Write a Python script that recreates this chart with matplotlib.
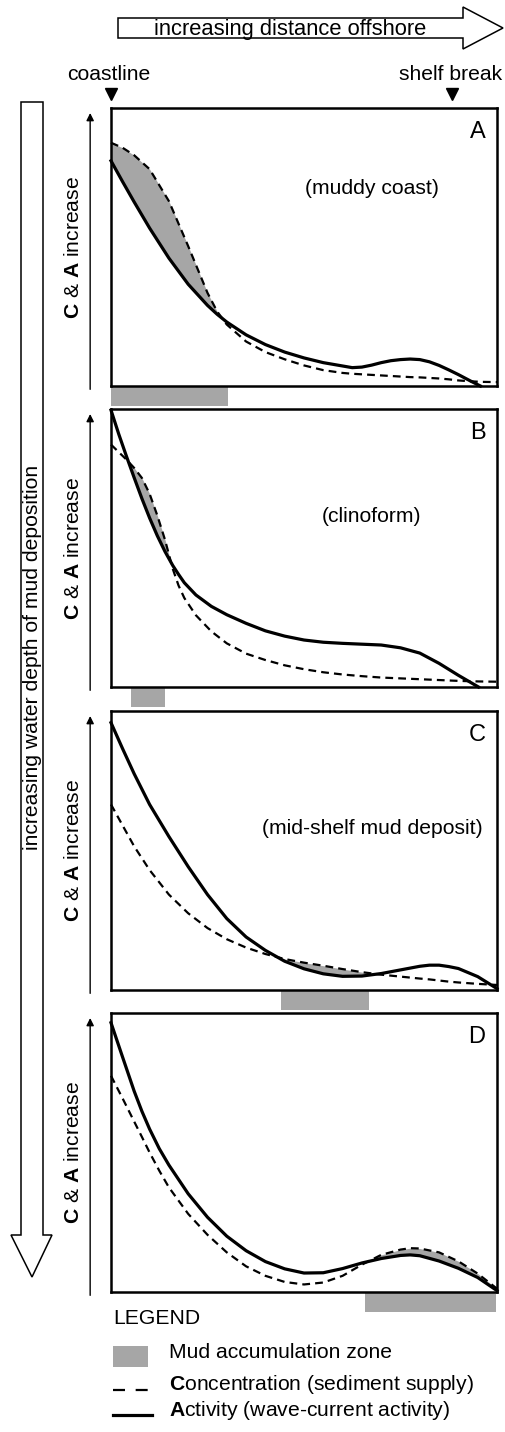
import numpy as np
import matplotlib
matplotlib.use("Agg")
import matplotlib.pyplot as plt
from matplotlib.patches import Polygon, Rectangle

plt.rcParams['font.family'] = ['Liberation Sans', 'DejaVu Sans']
plt.rcParams['mathtext.fontset'] = 'custom'
plt.rcParams['mathtext.rm'] = 'Liberation Sans'
plt.rcParams['mathtext.bf'] = 'Liberation Sans:bold'

# distance offshore (0 = coastline, 1 = right edge)
panel_labels = ['A', 'B', 'C', 'D']
panel_notes = ['(muddy coast)', '(clinoform)', '(mid-shelf mud deposit)', '']

x_a = [0, 0.03, 0.06, 0.1, 0.15, 0.2, 0.25, 0.275, 0.3, 0.35, 0.4, 0.45, 0.5, 0.55,
       0.6, 0.625, 0.65, 0.675, 0.7, 0.725, 0.75, 0.775, 0.8, 0.825, 0.85, 0.875,
       0.9, 0.93, 0.957, 1.0]
act_a = [0.81, 0.735, 0.662, 0.568, 0.46, 0.366, 0.29, 0.258, 0.23, 0.184, 0.149,
         0.122, 0.101, 0.084, 0.072, 0.066, 0.068, 0.075, 0.084, 0.091, 0.095, 0.097,
         0.095, 0.087, 0.074, 0.058, 0.041, 0.019, 0.0, np.nan]
conc_a = [0.875, 0.857, 0.83, 0.78, 0.665, 0.503, 0.335, 0.268, 0.221, 0.16, 0.122,
          0.096, 0.074, 0.057, 0.047, 0.044, 0.042, 0.04, 0.038, 0.036, 0.034, 0.032,
          0.031, 0.029, 0.027, 0.024, 0.02, 0.017, 0.015, 0.014]

x_b = [0, 0.02, 0.04, 0.06, 0.08, 0.1, 0.12, 0.14, 0.16, 0.175, 0.19, 0.22, 0.26, 0.3,
       0.35, 0.4, 0.45, 0.5, 0.55, 0.6, 0.65, 0.7, 0.75, 0.8, 0.85, 0.9, 0.952, 1.0]
act_b = [0.996, 0.91, 0.83, 0.753, 0.678, 0.608, 0.544, 0.487, 0.437, 0.405, 0.375,
         0.331, 0.29, 0.26, 0.229, 0.202, 0.183, 0.169, 0.161, 0.157, 0.154, 0.151,
         0.141, 0.122, 0.085, 0.042, 0.0, np.nan]
conc_b = [0.872, 0.845, 0.818, 0.788, 0.752, 0.695, 0.617, 0.529, 0.425, 0.365, 0.32,
          0.258, 0.2, 0.157, 0.12, 0.097, 0.078, 0.064, 0.053, 0.045, 0.039, 0.034,
          0.031, 0.028, 0.025, 0.022, 0.02, 0.019]

x_c = [0, 0.03, 0.06, 0.1, 0.15, 0.2, 0.25, 0.3, 0.35, 0.4, 0.45, 0.5, 0.55,
       0.6, 0.65, 0.7, 0.75, 0.8, 0.825, 0.85, 0.875, 0.9, 0.95, 1.0]
act_c = [0.958, 0.865, 0.775, 0.665, 0.55, 0.442, 0.342, 0.256, 0.19, 0.142, 0.103,
         0.076, 0.058, 0.049, 0.05, 0.059, 0.072, 0.085, 0.089, 0.089, 0.084, 0.077,
         0.048, 0.005]
conc_c = [0.665, 0.59, 0.515, 0.43, 0.342, 0.275, 0.222, 0.182, 0.152, 0.129, 0.111,
          0.098, 0.087, 0.075, 0.064, 0.055, 0.048, 0.041, 0.038, 0.034, 0.03, 0.027,
          0.022, 0.018]

x_d = [0, 0.03, 0.06, 0.08, 0.1, 0.125, 0.15, 0.2, 0.25, 0.3, 0.35, 0.4, 0.45, 0.5,
       0.55, 0.6, 0.65, 0.7, 0.75, 0.775, 0.8, 0.85, 0.9, 0.95, 1.0]
act_d = [0.965, 0.842, 0.72, 0.648, 0.584, 0.514, 0.455, 0.352, 0.268, 0.2, 0.148,
         0.109, 0.083, 0.068, 0.069, 0.084, 0.104, 0.12, 0.131, 0.133, 0.13, 0.111,
         0.085, 0.052, 0.005]
conc_d = [0.775, 0.694, 0.611, 0.556, 0.5, 0.435, 0.375, 0.28, 0.205, 0.142, 0.092,
          0.058, 0.036, 0.027, 0.034, 0.058, 0.098, 0.133, 0.152, 0.157, 0.156, 0.142,
          0.11, 0.066, 0.012]

mud_start = [0.0, 0.052, 0.44, 0.658]
mud_end = [0.303, 0.14, 0.668, 0.997]
shelf_break = 0.883

xs = [x_a, x_b, x_c, x_d]
acts = [act_a, act_b, act_c, act_d]
concs = [conc_a, conc_b, conc_c, conc_d]

W, H = 505, 1432
GREY = '#a6a6a6'
FS = 15.2
fig = plt.figure(figsize=(W / 100, H / 100), dpi=100)

# overlay in pixel coordinates for the arrows / legend
ov = fig.add_axes([0, 0, 1, 1])
ov.set_xlim(0, W)
ov.set_ylim(H, 0)
ov.axis('off')

# top arrow
ov.add_patch(Polygon([(118, 18), (463, 18), (463, 7), (503, 28), (463, 49),
                      (463, 38), (118, 38)], closed=True, fc='white', ec='black', lw=1.1))
ov.text(290, 29, 'increasing distance offshore', ha='center', va='center', fontsize=15.8)
ov.text(109, 74, 'coastline', ha='center', va='center', fontsize=FS)
ov.text(451, 74, 'shelf break', ha='center', va='center', fontsize=FS)

# left arrow
ov.add_patch(Polygon([(21, 102), (43, 102), (43, 1235), (52, 1235), (32, 1277),
                      (11, 1235), (21, 1235)], closed=True, fc='white', ec='black', lw=1.1))
ov.text(33, 657, 'increasing water depth of mud deposition', rotation=90,
        ha='center', va='center', fontsize=FS)

tops = [108, 409, 711, 1013]
bots = [386, 687, 990, 1292]
left, right = 111, 497
note_y = [0.712, 0.613, 0.58, 0.5]

for i in range(4):
    ax = fig.add_axes([left / W, 1 - bots[i] / H, (right - left) / W, (bots[i] - tops[i]) / H])
    ax.set_xlim(0, 1)
    ax.set_ylim(0, 1)
    ax.set_xticks([])
    ax.set_yticks([])
    for s in ax.spines.values():
        s.set_linewidth(1.8)

    x = np.array(xs[i])
    a = np.array(acts[i])
    c = np.array(concs[i])
    lo, hi = mud_start[i], mud_end[i]
    mask = (c >= a) & (x >= lo - 0.05) & (x <= hi + 0.05)
    ax.fill_between(x, a, c, where=mask, interpolate=True, color=GREY, lw=0)
    ax.plot(x, c, color='black', lw=1.6, ls=(0, (3.5, 2.3)), clip_on=False)
    ax.plot(x, a, color='black', lw=2.3, solid_joinstyle='round', clip_on=False)

    # mud accumulation bar under the panel
    bar_h = 20 / (bots[i] - tops[i])
    ax.bar(lo, bar_h, width=hi - lo, bottom=-bar_h, align='edge', color=GREY,
           lw=0, clip_on=False)

    ax.text(0.97, 0.915, panel_labels[i], transform=ax.transAxes, ha='right',
            va='center', fontsize=17)
    if panel_notes[i]:
        ax.text(0.676, note_y[i], panel_notes[i], transform=ax.transAxes,
                ha='center', va='center', fontsize=FS)

    ax.annotate('', xy=(-0.054, 0.982), xytext=(-0.054, -0.012),
                xycoords='axes fraction', textcoords='axes fraction',
                arrowprops=dict(arrowstyle='-|>', lw=1.0, color='black',
                                mutation_scale=11, shrinkA=0, shrinkB=0),
                annotation_clip=False)
    ax.text(-0.096, 0.5, r'$\mathbf{C}$ & $\mathbf{A}$ increase', transform=ax.transAxes,
            rotation=90, ha='center', va='center', fontsize=FS)

    if i == 0:
        ax.plot([0, shelf_break], [1.052, 1.052], ls='none', marker='v', ms=9,
                color='black', clip_on=False)

# legend
ov.text(113, 1319, 'LEGEND', ha='left', va='center', fontsize=FS)
ov.add_patch(Rectangle((113, 1346), 35, 21, color=GREY, lw=0))
ov.plot([113, 148], [1390, 1390], color='black', lw=1.6, ls=(0, (5.4, 4.8)))
ov.plot([113, 152], [1415, 1415], color='black', lw=2.3)
ov.text(169, 1353, 'Mud accumulation zone', ha='left', va='center', fontsize=FS)
ov.text(169, 1385, r'$\mathbf{C}$oncentration (sediment supply)', ha='left',
        va='center', fontsize=FS)
ov.text(169, 1410, r'$\mathbf{A}$ctivity (wave-current activity)', ha='left',
        va='center', fontsize=FS)

fig.savefig('out.png', dpi=100)
